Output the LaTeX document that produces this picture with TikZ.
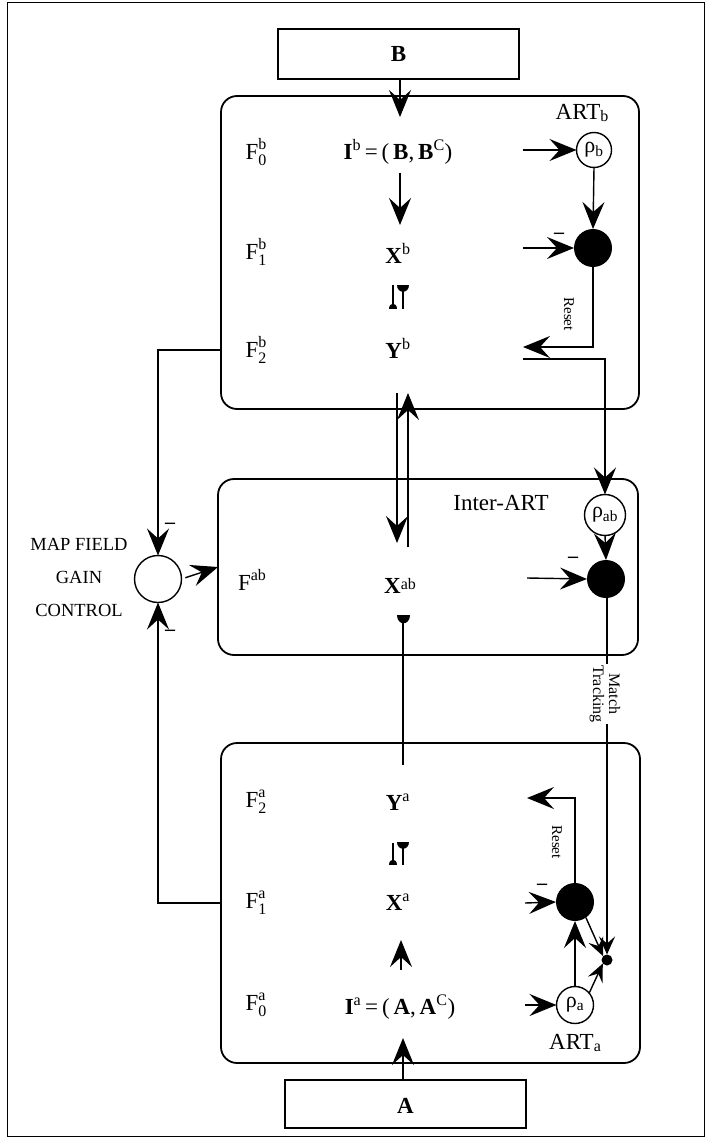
\documentclass[tikz,border=0pt]{standalone}
\usepackage{fontspec}
\setmainfont{Liberation Serif}
\usetikzlibrary{arrows.meta}
\newcommand{\sz}[1]{\fontsize{#1}{#1}\selectfont}
\newcommand{\Fl}[2]{F\rlap{\raisebox{0.95ex}{\sz{16}#2}}\raisebox{-0.6ex}{\sz{16}#1}}
\begin{document}
\begin{tikzpicture}[x=1pt,y=-1pt,
  every node/.style={inner sep=0pt, outer sep=0pt},
  lbl/.style={font=\sz{23}},
  frame/.style={draw, line width=1.8pt, rounded corners=16pt},
  sqbox/.style={draw, line width=1.6pt},
  arr/.style={line width=1.4pt, -{Stealth[length=27pt,width=22pt,inset=10pt]}},
  sarr/.style={line width=1.4pt, -{Stealth[length=18pt,width=16pt,inset=7pt]}},
  ln/.style={line width=1.4pt},
  opencirc/.style={draw, circle, line width=1.4pt},
  fillcirc/.style={fill=black, circle},
  minus/.style={font=\sz{20}\bfseries},
  rot/.style={rotate=-90, font=\sz{15}},
  gain/.style={font=\sz{18.5}}
]
\useasboundingbox (0,0) rectangle (707,1139);
\draw[line width=1pt] (7,3) rectangle (704,1136);

% ---------- boxes ----------
\node[sqbox, minimum width=241pt, minimum height=50pt] (Bbox) at (398.5,54) {};
\node[lbl, font=\sz{23}\bfseries] (Blbl) at (398.5,54) {B};
\node[frame, minimum width=418pt, minimum height=313pt] (ARTb) at (430,252.5) {};
\node[frame, minimum width=420pt, minimum height=176pt] (Inter) at (428,567) {};
\node[frame, minimum width=419pt, minimum height=320pt] (ARTa) at (430.5,903) {};
\node[sqbox, minimum width=241pt, minimum height=48pt] (Abox) at (405.5,1104) {};
\node[lbl, font=\sz{23}\bfseries] (Albl) at (405.5,1106) {A};

% ---------- ART b ----------
\node[lbl] (ARTbl) at (582,113) {ART\raisebox{-0.1ex}{\sz{16}b}};
\node[lbl] (F0b) at (256,152) {\Fl{0}{b}};
\node[lbl] (Ib) at (398,152) {\textbf{I}\textsuperscript{b}\,=\,(\,\textbf{B},\,\textbf{B}\textsuperscript{C})};
\node[lbl] (F1b) at (256,252) {\Fl{1}{b}};
\node[lbl] (Xb) at (398,253) {\textbf{X}\textsuperscript{b}};
\node[lbl] (F2b) at (256,350) {\Fl{2}{b}};
\node[lbl] (Yb) at (398,348) {\textbf{Y}\textsuperscript{b}};
\node[opencirc, minimum size=35pt, font=\sz{22}] (rhob) at (594,150) {ρ\textsubscript{b}};
\node[fillcirc, minimum size=38pt] (Fb) at (593,248) {};
\coordinate (inRb) at (523,150);
\coordinate (inFb) at (523,248);
\coordinate (Bin) at (400,117);
\coordinate (IbD) at (400,173);
\coordinate (XbU) at (400,225);
\coordinate (resetB) at (523,347);
\coordinate (YbR) at (523,359);
\coordinate (dnTop) at (397,393);
\coordinate (dnBot) at (397,543);
\coordinate (upTop) at (408,393);
\coordinate (upBot) at (408,547);

\draw[arr] (Bbox.south -| Bin) -- (Bin);
\draw[arr] (IbD) -- (XbU);
\draw[arr] (inRb) -- (rhob.west);
\draw[arr] (rhob.south) -- (Fb.north);
\draw[arr] (inFb) -- (Fb.west);
\node[minus] (mFb) at (559,236) {–};
\draw[arr] (Fb.south) |- (resetB);
\node[rot] (resetBl) at (569,314) {Reset};

% adaptive weight symbols (ART b)
\draw[ln] (393,285) -- (393,305);
\fill (389,309) .. controls (389,302) and (397,302) .. (397,309) -- cycle;
\draw[ln] (403,289) -- (403,309);
\fill (397,285) .. controls (397,294) and (409,294) .. (409,285) -- cycle;

% ---------- Inter-ART ----------
\node[lbl] (Interl) at (501,503) {Inter-ART};
\node[opencirc, minimum size=41pt, font=\sz{22}] (rhoab) at (605,515) {ρ\textsubscript{ab}};
\node[fillcirc, minimum size=38pt] (Fab) at (606,579) {};
\node[lbl] (Fabl) at (252,580) {F\raisebox{0.95ex}{\sz{16}ab}};
\node[lbl] (Xab) at (400,586) {\textbf{X}\raisebox{0.35ex}{\sz{16}ab}};
\coordinate (inFab) at (527,578);
\node[minus] (mFab) at (573,560) {–};
\draw[arr] (YbR) -| (rhoab.north);
\draw[arr] (rhoab.south) -- (Fab.north);
\draw[arr] (inFab) -- (Fab.west);
\draw[arr] (dnTop) -- (dnBot);
\draw[arr] (upBot) -- (upTop);
\fill (396.5,615) .. controls (396.5,626) and (409.5,626) .. (409.5,615) -- cycle;
\coordinate (xabDot) at (403,620);

% gain control
\node[opencirc, minimum size=47pt] (G) at (158,579) {};
\node[gain] (mf1) at (79,544) {MAP FIELD};
\node[gain] (mf2) at (79,577) {GAIN};
\node[gain] (mf3) at (79,610) {CONTROL};
\draw[arr] (ARTb.west |- F2b) -| (G.north);
\draw[arr] (ARTa.west |- 0,903) -| (G.south);
\draw[arr, shorten <=4pt] (G.east) -- (Inter.west);
\node[minus] (mG1) at (170,526) {–};
\node[minus] (mG2) at (170,633) {–};

% ---------- ART a ----------
\node[lbl] (F2a) at (256,802) {\Fl{2}{a}};
\node[lbl] (Ya) at (398,802) {\textbf{Y}\textsuperscript{a}};
\node[lbl] (F1a) at (256,903) {\Fl{1}{a}};
\node[lbl] (Xa) at (398,902) {\textbf{X}\textsuperscript{a}};
\node[lbl] (F0a) at (256,1005) {\Fl{0}{a}};
\node[lbl] (Ia) at (400,1007) {\textbf{I}\textsuperscript{a}\,=\,(\,\textbf{A},\,\textbf{A}\textsuperscript{C})};
\node[lbl] (ARTal) at (575,1043) {ART\raisebox{-0.1ex}{\sz{16}a}};
\node[fillcirc, minimum size=38pt] (Fa) at (575,902) {};
\node[opencirc, minimum size=37pt, font=\sz{22}] (rhoa) at (575,1005) {ρ\textsubscript{a}};
\node[fillcirc, minimum size=11pt] (dot) at (607,960) {};
\coordinate (yaTop) at (403,765);
\coordinate (XaU) at (401,940);
\coordinate (IaD) at (401,970);
\coordinate (Ain) at (403,1038);
\coordinate (inFa) at (525,903);
\coordinate (inRa) at (525,1005);
\coordinate (resetA) at (527,798);

\draw[ln] (xabDot) -- (yaTop);
% adaptive weight symbols (ART a)
\draw[ln] (393,843) -- (393,861);
\fill (389,865) .. controls (389,858) and (397,858) .. (397,865) -- cycle;
\draw[ln] (403,845) -- (403,865);
\fill (397,842) .. controls (397,851) and (409,851) .. (409,842) -- cycle;

\draw[arr] (IaD) -- (XaU);
\draw[arr] (Abox.north -| Ain) -- (Ain);
\draw[arr] (inFa) -- (Fa.west);
\node[minus] (mFa) at (542,887) {–};
\draw[arr] (inRa) -- (rhoa.west);
\draw[arr] (rhoa.north) -- (Fa.south);
\draw[arr] (Fa.north) |- (resetA);
\node[rot] (resetAl) at (557,842) {Reset};
\draw[sarr] (Fa.-55) -- (dot.135);
\draw[sarr] (rhoa.40) -- (dot.-140);
\draw[sarr] (Fab.south -| dot) -- (dot.north);
\node[rot, align=center, fill=white, inner sep=1pt, font=\sz{16}] (mt) at (605,694) {Match\\Tracking};
\end{tikzpicture}
\end{document}
